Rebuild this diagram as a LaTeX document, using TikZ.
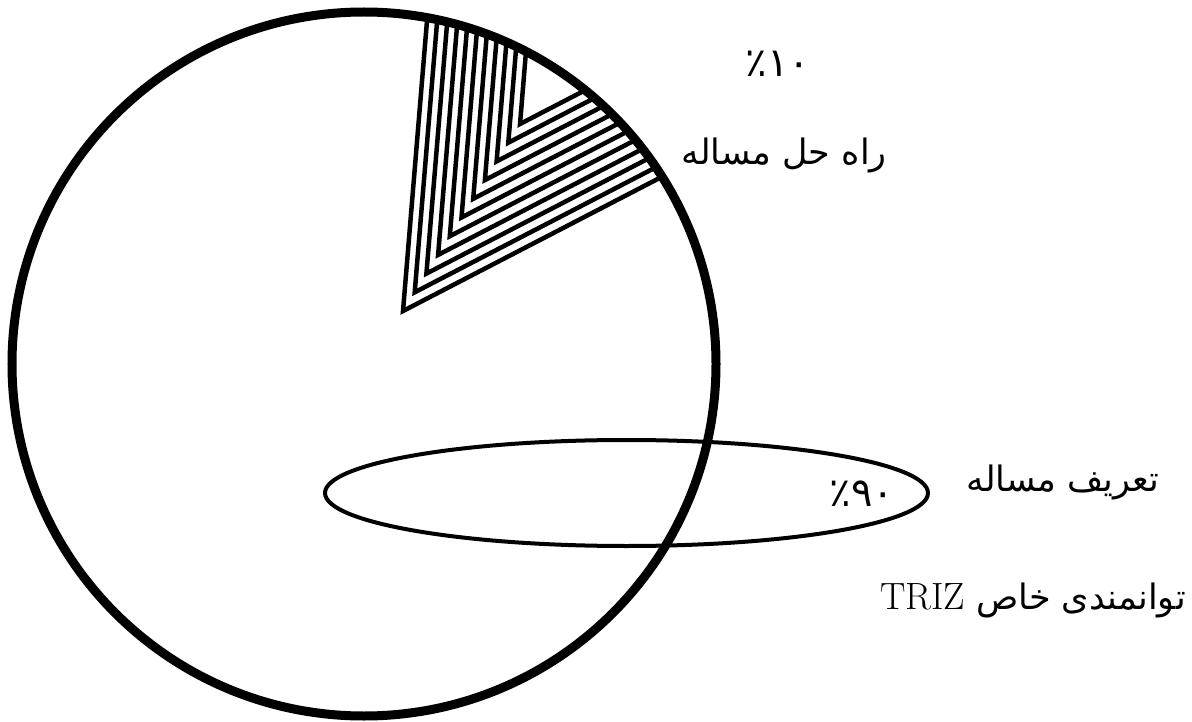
\documentclass[tikz,border=0pt]{standalone}
\usepackage{fontspec}
\usepackage{tikz}
\usetikzlibrary{positioning, calc}
\TeXXeTstate=1
\newfontfamily\farsi[Script=Arabic]{DejaVu Sans}

\begin{document}
\begin{tikzpicture}[x=1pt, y=-1pt,
    chevron/.style={line width=4.5pt, line join=miter},
    label/.style={font=\fontsize{35}{42}\selectfont\farsi, inner sep=0pt},
    percent/.style={font=\fontsize{40}{48}\selectfont\farsi, inner sep=0pt}]
    \useasboundingbox (0,0) rectangle (1192,722);
    \coordinate (c) at (364,364);
    \coordinate (apex) at (403,311);

    % Hatched slice
    \begin{scope}
        \clip (c) circle (350pt);
        \foreach \i in {0,...,10}
            \draw[chevron] ($(apex)+(\i*11.7,-\i*18.7)+(33,-399)$)
                -- ($(apex)+(\i*11.7,-\i*18.7)$) -- ++(355,-184);
    \end{scope}

    % Whole
    \draw[line width=9pt] (c) circle (352pt);

    % Definition
    \draw[line width=4pt] (626.5,493) ellipse [x radius=301.5pt, y radius=53pt];

    % Labels
    \node[label] (solution) at (784,155) {\beginR راه حل مساله\endR};
    \node[percent] (pct10) at (778,64) {٪۱۰};
    \node[label] (definition) at (1063,482) {\beginR تعریف مساله\endR};
    \node[percent] (pct90) at (862,494) {٪۹۰};
    \node[label, anchor=east] (triz) at (1186,600)
        {\beginR توانمندی خاص \beginL{\fontsize{38}{44}\rmfamily TRIZ}\endL{}\endR};
\end{tikzpicture}
\end{document}
